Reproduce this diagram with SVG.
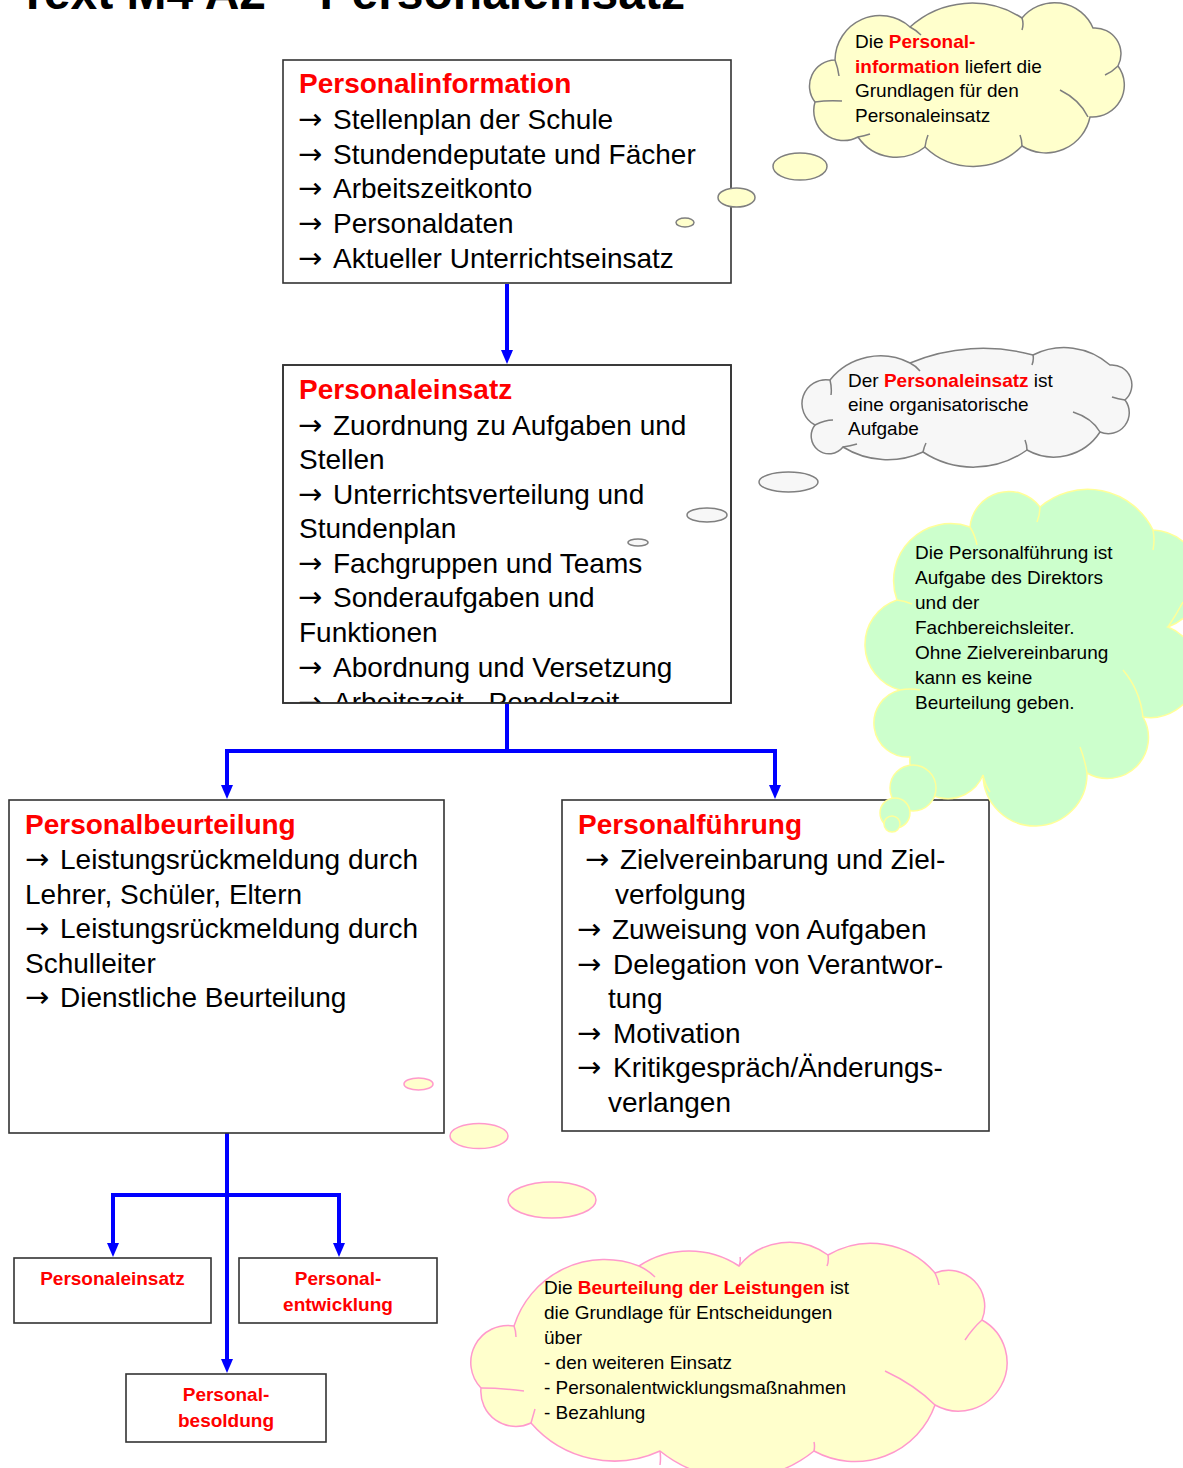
<svg xmlns="http://www.w3.org/2000/svg" width="1183" height="1468" viewBox="0 0 1183 1468">
<style>
  text { font-family: "Liberation Sans", Arial, sans-serif; fill: #000; }
  .title { font-size: 48px; font-weight: bold; }
  .hd { font-size: 28px; font-weight: bold; fill: #FF0000; }
  .bd { font-size: 28px; }
  .ar { font-family: "DejaVu Sans", sans-serif; font-size: 29px; }
  .sm { font-size: 19px; font-weight: bold; fill: #FF0000; }
  .cl { font-size: 19px; }
  .red { fill: #FF0000; font-weight: bold; }
  .box { fill: #FFFFFF; stroke: #333333; stroke-width: 1.6; }
  .conn { fill: none; stroke: #0000FF; stroke-width: 4; }
  .cy { fill: #FFFFCC; stroke: #7F7F7F; stroke-width: 1.5; }
  .cg { fill: #F7F7F7; stroke: #7F7F7F; stroke-width: 1.5; }
  .cgr { fill: #CCFFCC; stroke: #FFFF99; stroke-width: 1.5; }
  .cp { fill: #FFFFCC; stroke: #FF99CC; stroke-width: 1.5; }
  .in { fill: none; }
</style>
<defs>
  <marker id="ah" markerUnits="userSpaceOnUse" markerWidth="14" markerHeight="12" refX="2" refY="6" orient="auto">
    <path d="M0,0 L14,6 L0,12 Z" fill="#0000FF"/>
  </marker>
  <clipPath id="clipPE"><rect x="283" y="365" width="448" height="338"/></clipPath>
</defs>
<rect width="1183" height="1468" fill="#FFFFFF"/>

<text class="title" x="18" y="9">Text M4 A2 – Personaleinsatz</text>

<g id="connectors">
  <path class="conn" d="M507,284 L507,352" marker-end="url(#ah)"/>
  <path class="conn" d="M507,703 L507,751"/>
  <path class="conn" d="M227,751 L775,751"/>
  <path class="conn" d="M227,749 L227,787" marker-end="url(#ah)"/>
  <path class="conn" d="M775,749 L775,787" marker-end="url(#ah)"/>
  <path class="conn" d="M227,1133 L227,1361" marker-end="url(#ah)"/>
  <path class="conn" d="M111,1195 L341,1195"/>
  <path class="conn" d="M113,1193 L113,1245" marker-end="url(#ah)"/>
  <path class="conn" d="M339,1193 L339,1245" marker-end="url(#ah)"/>
</g>

<g id="personalinformation">
  <rect class="box" x="283" y="60" width="448" height="223"/>
  <text class="hd" x="299" y="93">Personalinformation</text>
  <text class="bd" y="129"><tspan class="ar" x="298">→</tspan><tspan x="333">Stellenplan der Schule</tspan></text>
  <text class="bd" y="164"><tspan class="ar" x="298">→</tspan><tspan x="333">Stundendeputate und Fächer</tspan></text>
  <text class="bd" y="198"><tspan class="ar" x="298">→</tspan><tspan x="333">Arbeitszeitkonto</tspan></text>
  <text class="bd" y="233"><tspan class="ar" x="298">→</tspan><tspan x="333">Personaldaten</tspan></text>
  <text class="bd" y="268"><tspan class="ar" x="298">→</tspan><tspan x="333">Aktueller Unterrichtseinsatz</tspan></text>
</g>

<g id="personaleinsatz">
  <rect class="box" x="283" y="365" width="448" height="338"/>
  <g clip-path="url(#clipPE)">
    <text class="hd" x="299" y="399">Personaleinsatz</text>
    <text class="bd" y="435"><tspan class="ar" x="298">→</tspan><tspan x="333">Zuordnung zu Aufgaben und</tspan></text>
    <text class="bd" x="299" y="469">Stellen</text>
    <text class="bd" y="504"><tspan class="ar" x="298">→</tspan><tspan x="333">Unterrichtsverteilung und</tspan></text>
    <text class="bd" x="299" y="538">Stundenplan</text>
    <text class="bd" y="573"><tspan class="ar" x="298">→</tspan><tspan x="333">Fachgruppen und Teams</tspan></text>
    <text class="bd" y="607"><tspan class="ar" x="298">→</tspan><tspan x="333">Sonderaufgaben und</tspan></text>
    <text class="bd" x="299" y="642">Funktionen</text>
    <text class="bd" y="677"><tspan class="ar" x="298">→</tspan><tspan x="333">Abordnung und Versetzung</tspan></text>
    <text class="bd" y="712"><tspan class="ar" x="298">→</tspan><tspan x="333">Arbeitszeit - Pendelzeit</tspan></text>
  </g>
  <rect x="283" y="365" width="448" height="338" fill="none" stroke="#333333" stroke-width="1.6"/>
</g>

<g id="personalbeurteilung">
  <rect class="box" x="9" y="800" width="435" height="333"/>
  <text class="hd" x="25" y="834">Personalbeurteilung</text>
  <text class="bd" y="869"><tspan class="ar" x="25">→</tspan><tspan x="60">Leistungsrückmeldung durch</tspan></text>
  <text class="bd" x="25" y="904">Lehrer, Schüler, Eltern</text>
  <text class="bd" y="938"><tspan class="ar" x="25">→</tspan><tspan x="60">Leistungsrückmeldung durch</tspan></text>
  <text class="bd" x="25" y="973">Schulleiter</text>
  <text class="bd" y="1007"><tspan class="ar" x="25">→</tspan><tspan x="60">Dienstliche Beurteilung</tspan></text>
</g>

<g id="personalfuehrung">
  <rect class="box" x="562" y="800" width="427" height="331"/>
  <text class="hd" x="578" y="834">Personalführung</text>
  <text class="bd" y="869"><tspan class="ar" x="585">→</tspan><tspan x="620">Zielvereinbarung und Ziel-</tspan></text>
  <text class="bd" x="615" y="904">verfolgung</text>
  <text class="bd" y="939"><tspan class="ar" x="577">→</tspan><tspan x="612">Zuweisung von Aufgaben</tspan></text>
  <text class="bd" y="974"><tspan class="ar" x="577">→</tspan><tspan x="613">Delegation von Verantwor-</tspan></text>
  <text class="bd" x="608" y="1008">tung</text>
  <text class="bd" y="1043"><tspan class="ar" x="577">→</tspan><tspan x="613">Motivation</tspan></text>
  <text class="bd" y="1077"><tspan class="ar" x="577">→</tspan><tspan x="613">Kritikgespräch/Änderungs-</tspan></text>
  <text class="bd" x="608" y="1112">verlangen</text>
</g>

<g id="box-personaleinsatz-small">
  <rect class="box" x="14" y="1258" width="197" height="65"/>
  <text class="sm" x="112.5" y="1285" text-anchor="middle">Personaleinsatz</text>
</g>
<g id="box-personalentwicklung">
  <rect class="box" x="239" y="1258" width="198" height="65"/>
  <text class="sm" x="338" y="1285" text-anchor="middle">Personal-</text>
  <text class="sm" x="338" y="1311" text-anchor="middle">entwicklung</text>
</g>
<g id="box-personalbesoldung">
  <rect class="box" x="126" y="1374" width="200" height="68"/>
  <text class="sm" x="226" y="1401" text-anchor="middle">Personal-</text>
  <text class="sm" x="226" y="1427" text-anchor="middle">besoldung</text>
</g>

<g id="cloud-personalinformation">
  <ellipse class="cy" cx="685" cy="222.5" rx="9" ry="4.5"/>
  <ellipse class="cy" cx="736.5" cy="197.5" rx="18.5" ry="9.5"/>
  <ellipse class="cy" cx="800" cy="166.5" rx="27" ry="13.5"/>
  <path class="cy" d="M835,60 A45,45 0 0 1 910,27 A92,92 0 0 1 1022,18 A42,42 0 0 1 1093,28 A26,26 0 0 1 1118,66 A32,32 0 0 1 1090,117 A45,45 0 0 1 1022,146 A69,69 0 0 1 925,147 A46,46 0 0 1 858,137 A30,30 0 0 1 815,102 A26,26 0 0 1 835,60 Z"/>
  <path class="cy in" d="M835,60 Q838,68 839,76 M910,27 Q916,30 921,35 M1022,18 Q1024,24 1022,30 M1105,75 Q1112,72 1118,66 M1060,90 Q1080,100 1088,117 M1022,146 Q1022,140 1020,135 M925,147 Q926,140 928,135 M858,137 Q864,136 870,134 M815,102 Q828,100 842,101"/>
  <text class="cl" x="855" y="48">Die <tspan class="red">Personal-</tspan></text>
  <text class="cl" x="855" y="73"><tspan class="red">information</tspan> liefert die</text>
  <text class="cl" x="855" y="97">Grundlagen für den</text>
  <text class="cl" x="855" y="122">Personaleinsatz</text>
</g>

<g id="cloud-personaleinsatz">
  <ellipse class="cg" cx="638" cy="542.5" rx="10" ry="3.5"/>
  <ellipse class="cg" cx="707" cy="515" rx="20" ry="7"/>
  <ellipse class="cg" cx="788.5" cy="482" rx="29.5" ry="10"/>
  <path class="cg" d="M830,380 A65,65 0 0 1 910,363 A190,190 0 0 1 1033,355 A69,69 0 0 1 1110,365 A20,20 0 0 1 1125,400 A21,21 0 0 1 1100,432 A55,55 0 0 1 1027,450 A92,92 0 0 1 923,452 A85,85 0 0 1 843,447 A17,17 0 0 1 815,425 A24,24 0 0 1 830,380 Z"/>
  <path class="cg in" d="M830,380 Q832,388 831,395 M910,363 Q916,366 920,371 M1033,355 Q1034,360 1032,365 M1125,400 Q1118,399 1112,397 M1073,412 Q1092,418 1100,432 M1027,450 Q1027,445 1025,440 M923,452 Q924,447 926,443 M843,447 Q850,446 857,444 M815,425 Q825,420 833,420"/>
  <text class="cl" x="848" y="387">Der <tspan class="red">Personaleinsatz</tspan> ist</text>
  <text class="cl" x="848" y="411">eine organisatorische</text>
  <text class="cl" x="848" y="435">Aufgabe</text>
</g>

<g id="cloud-personalfuehrung">
  <path class="cgr" d="M897,600 A57,57 0 0 1 970,527 A39,39 0 0 1 1040,507 A73,73 0 0 1 1153,530 A50,50 0 0 1 1168,627 A47,47 0 0 1 1143,717 A41,41 0 0 1 1087,773 A52,52 0 0 1 983,775 A38,38 0 0 1 910,757 A34,34 0 0 1 900,690 A47,47 0 0 1 897,600 Z"/>
  <path class="cgr in" d="M970,527 Q975,535 977,545 M1040,507 Q1040,515 1037,522 M1153,530 Q1155,540 1153,550 M1168,627 Q1176,615 1183,602 M1123,670 Q1140,690 1143,717 M1087,773 Q1085,760 1080,747 M983,775 Q985,785 990,792 M900,690 Q910,688 920,690 M897,600 Q905,601 912,604"/>
  <circle class="cgr" cx="913" cy="788" r="23"/>
  <circle class="cgr" cx="895" cy="813" r="15"/>
  <circle class="cgr" cx="892" cy="824" r="8"/>
  <text class="cl" x="915" y="559">Die Personalführung ist</text>
  <text class="cl" x="915" y="584">Aufgabe des Direktors</text>
  <text class="cl" x="915" y="609">und der</text>
  <text class="cl" x="915" y="634">Fachbereichsleiter.</text>
  <text class="cl" x="915" y="659">Ohne Zielvereinbarung</text>
  <text class="cl" x="915" y="684">kann es keine</text>
  <text class="cl" x="915" y="709">Beurteilung geben.</text>
</g>

<g id="cloud-beurteilung">
  <ellipse class="cp" cx="418.5" cy="1084" rx="14.5" ry="6"/>
  <ellipse class="cp" cx="479" cy="1136" rx="29" ry="12.5"/>
  <ellipse class="cp" cx="552" cy="1200" rx="44" ry="18"/>
  <path class="cp" d="M514,1326 A95,95 0 0 1 639,1266 A91,91 0 0 1 739,1266 A65,65 0 0 1 828,1255 A84,84 0 0 1 935,1273 A36,36 0 0 1 982,1320 A48,48 0 0 1 935,1405 A85,85 0 0 1 814,1451 A123,123 0 0 1 660,1451 A110,110 0 0 1 531,1423 A35,35 0 0 1 481,1388 A37,37 0 0 1 514,1326 Z"/>
  <path class="cp in" d="M639,1266 Q648,1270 655,1277 M739,1266 Q741,1261 740,1257 M828,1255 Q829,1261 827,1266 M935,1273 Q938,1279 939,1285 M982,1320 Q973,1328 965,1340 M885,1371 Q915,1385 935,1405 M814,1451 Q815,1446 814,1442 M660,1451 Q661,1458 660,1465 M531,1423 Q533,1416 535,1409 M481,1388 Q500,1388 524,1391 M514,1326 Q516,1331 516,1337"/>
  <text class="cl" x="544" y="1294">Die <tspan class="red">Beurteilung der Leistungen</tspan> ist</text>
  <text class="cl" x="544" y="1319">die Grundlage für Entscheidungen</text>
  <text class="cl" x="544" y="1344">über</text>
  <text class="cl" x="544" y="1369">- den weiteren Einsatz</text>
  <text class="cl" x="544" y="1394">- Personalentwicklungsmaßnahmen</text>
  <text class="cl" x="544" y="1419">- Bezahlung</text>
</g>
</svg>
